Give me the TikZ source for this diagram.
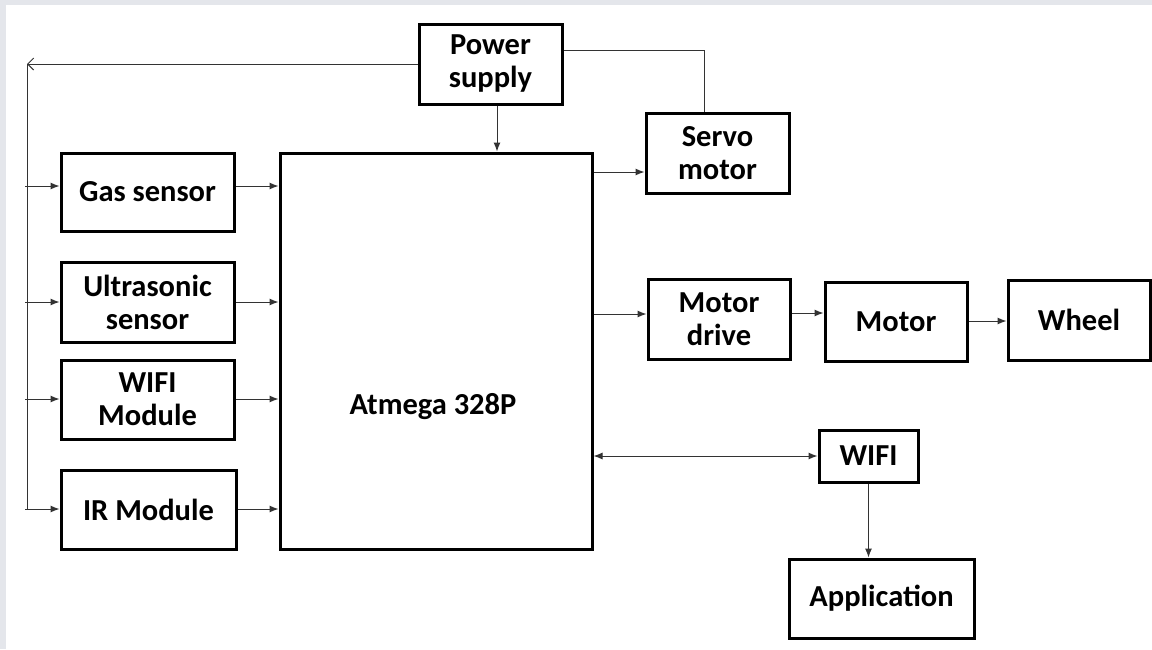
\documentclass[tikz,border=0pt]{standalone}
\usepackage{fontspec}
\setmainfont{Carlito}
\usetikzlibrary{arrows.meta}
\definecolor{framegrey}{HTML}{E4E6EB}
\definecolor{linegrey}{HTML}{333333}
\begin{document}
\begin{tikzpicture}[x=1pt,y=1pt,
  box/.style={draw=black,line width=3pt,fill=white,inner sep=0pt,align=center,
    font=\fontsize{30.5}{33}\selectfont\bfseries},
  conn/.style={draw=linegrey,line width=1pt},
  arr/.style={conn,-{Latex[length=9pt,width=7pt]}},
  openarr/.style={conn,-{Straight Barb[length=6pt,width=12pt,line width=1pt]}},
  dbl/.style={conn,{Latex[length=9pt,width=7pt]}-{Latex[length=9pt,width=7pt]}},
  txt/.style={font=\fontsize{30.5}{33}\selectfont\bfseries}
]
\useasboundingbox (0,0) rectangle (1152,-649);
\fill[white] (0,0) rectangle (1152,-649);
\fill[framegrey] (0,0) rectangle (1152,-5);
\fill[framegrey] (0,0) rectangle (6,-649);

% boxes
\node[box,minimum width=143pt,minimum height=80pt] (ps) at (490.5,-64) {Power\\supply};
\node[box,minimum width=173pt,minimum height=78pt] (gas) at (147.5,-192) {Gas sensor};
\node[box,minimum width=173pt,minimum height=80pt] (ultra) at (147.5,-302) {Ultrasonic\\sensor};
\node[box,minimum width=173pt,minimum height=79pt] (wifim) at (147.5,-399.5) {WIFI\\Module};
\node[box,minimum width=175pt,minimum height=79pt] (ir) at (148.5,-509.5) {IR Module};
\node[box,minimum width=312pt,minimum height=396pt] (atm) at (436,-351) {};
\node[txt] (atmtext) at (433,-407) {Atmega 328P};
\node[box,minimum width=143pt,minimum height=80pt] (servo) at (717.5,-153) {Servo\\motor};
\node[box,minimum width=142pt,minimum height=80pt] (mdrive) at (719,-319) {Motor\\drive};
\node[box,minimum width=142pt,minimum height=79pt] (motor) at (896,-321.5) {Motor};
\node[box,minimum width=142pt,minimum height=80pt] (wheel) at (1079,-320) {Wheel};
\node[box,minimum width=99pt,minimum height=52pt] (wifi) at (868.5,-456) {WIFI};
\node[box,minimum width=185pt,minimum height=79pt] (app) at (881.5,-598.5) {Application};

% power bus on the left
\coordinate (bt) at (27,-64);
\coordinate (bb) at (27,-510);
\coordinate (b1) at (25,-186);
\coordinate (b2) at (25,-302);
\coordinate (b3) at (25,-399);
\coordinate (b4) at (25,-509);
\draw[openarr] (ps.west |- bt) -- (bt);
\draw[conn] (bt) -- (bb);
\draw[arr] (b1) -- (b1 -| gas.west);
\draw[arr] (b2) -- (b2 -| ultra.west);
\draw[arr] (b3) -- (b3 -| wifim.west);
\draw[arr] (b4) -- (b4 -| ir.west);

% sensors to controller
\draw[arr] (gas.east |- b1) -- (atm.west |- b1);
\draw[arr] (ultra.east |- b2) -- (atm.west |- b2);
\draw[arr] (wifim.east |- b3) -- (atm.west |- b3);
\draw[arr] (ir.east |- b4) -- (atm.west |- b4);

% power supply
\draw[arr] ([xshift=6.5pt]ps.south) -- ([xshift=6.5pt]ps.south |- atm.north);
\draw[conn] ([yshift=14pt]ps.east) -| ([xshift=-13.5pt]servo.north);

% outputs
\draw[arr] (atm.east |- 0,-172) -- (servo.west |- 0,-172);
\draw[arr] (atm.east |- 0,-314) -- (mdrive.west |- 0,-314);
\draw[arr] (mdrive.east |- 0,-313) -- (motor.west |- 0,-313);
\draw[arr] (motor.east |- 0,-321) -- (wheel.west |- 0,-321);
\draw[dbl] (atm.east |- wifi.west) -- (wifi.west);
\draw[arr] (wifi.south) -- (wifi.south |- app.north);
\end{tikzpicture}
\end{document}
